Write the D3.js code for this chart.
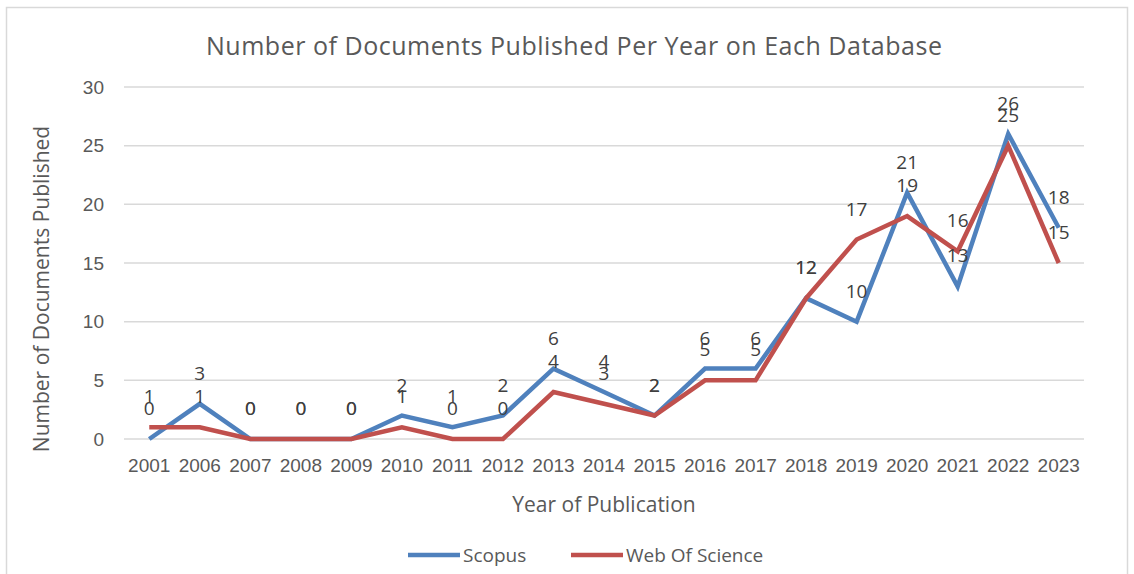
<!DOCTYPE html>
<meta charset="utf-8">
<style>
    body { margin: 0; background: #fff; font-family: "Open Sans", "Noto Sans", sans-serif; }
    text { fill: #595959; }
</style>
<body>
<script src="https://cdn.jsdelivr.net/npm/d3@7"></script>
<script>

var years = ["2001","2006","2007","2008","2009","2010","2011","2012","2013","2014",
             "2015","2016","2017","2018","2019","2020","2021","2022","2023"];
var scopus = [0,3,0,0,0,2,1,2,6,4,2,6,6,12,10,21,13,26,18];
var wos    = [1,1,0,0,0,1,0,0,4,3,2,5,5,12,17,19,16,25,15];
var yTicks = [0,5,10,15,20,25,30];

var series = [
  {name: "Scopus", values: scopus, color: "#4f81bd"},
  {name: "Web Of Science", values: wos, color: "#c0504d"}
];

var W = 1134, H = 574;
var margin = {top: 87, right: 50, bottom: 135, left: 124},
    width = W - margin.left - margin.right,
    height = H - margin.top - margin.bottom;

var svg = d3.select("body").append("svg")
    .attr("width", W)
    .attr("height", H);

// outer chart border
svg.append("rect")
    .attr("x", 6.5).attr("y", 7.5)
    .attr("width", 1121).attr("height", 580)
    .attr("fill", "none")
    .attr("stroke", "#d9d9d9")
    .attr("stroke-width", 1.5);

svg.append("text")
    .attr("x", 574).attr("y", 55)
    .attr("text-anchor", "middle")
    .style("font-size", "25px")
    .attr("textLength", 736)
    .text("Number of Documents Published Per Year on Each Database");

var g = svg.append("g")
    .attr("transform", "translate(" + margin.left + "," + margin.top + ")");

var x = d3.scaleBand().domain(years).range([0, width]);
var y = d3.scaleLinear().domain([0, 30]).range([height, 0]);

// gridlines
g.append("g")
  .selectAll("line")
  .data(yTicks)
  .enter().append("line")
    .attr("x1", 0).attr("x2", width)
    .attr("y1", function(d) { return y(d); })
    .attr("y2", function(d) { return y(d); })
    .attr("stroke", "#d9d9d9")
    .attr("stroke-width", 1.5);

// y axis labels
var yAxis = g.append("g")
    .call(d3.axisLeft(y).tickValues(yTicks).tickSize(0).tickPadding(20));
yAxis.select(".domain").remove();
yAxis.selectAll("text").style("font-size", "19px").attr("fill", "#595959");

// x axis labels
var xAxis = g.append("g")
    .attr("transform", "translate(0," + height + ")")
    .call(d3.axisBottom(x).tickSize(0).tickPadding(20));
xAxis.select(".domain").remove();
xAxis.selectAll("text").style("font-size", "19px").attr("fill", "#595959");

svg.append("text")
    .attr("x", 604).attr("y", 512)
    .attr("text-anchor", "middle")
    .style("font-size", "21px")
    .text("Year of Publication");

svg.append("text")
    .attr("transform", "translate(49,289) rotate(-90)")
    .attr("text-anchor", "middle")
    .style("font-size", "21px")
    .text("Number of Documents Published");

var line = d3.line()
    .x(function(d, i) { return x(years[i]) + x.bandwidth() / 2; })
    .y(function(d) { return y(d); });

series.forEach(function(s) {
  g.append("path")
      .datum(s.values)
      .attr("fill", "none")
      .attr("stroke", s.color)
      .attr("stroke-width", 4.5)
      .attr("stroke-linejoin", "miter")
      .attr("d", line);
});

series.forEach(function(s) {
  g.append("g")
    .selectAll("text")
    .data(s.values)
    .enter().append("text")
      .attr("x", function(d, i) { return x(years[i]) + x.bandwidth() / 2; })
      .attr("y", function(d) { return y(d) - 24; })
      .attr("text-anchor", "middle")
      .style("font-size", "19px")
      .style("fill", "#404040")
      .text(function(d) { return d; });
});

// legend
var legend = svg.append("g").attr("transform", "translate(0,555)");
var lx = [408, 571];
series.forEach(function(s, i) {
  legend.append("line")
      .attr("x1", lx[i]).attr("x2", lx[i] + 52)
      .attr("y1", 0).attr("y2", 0)
      .attr("stroke", s.color)
      .attr("stroke-width", 4.5);
  legend.append("text")
      .attr("x", lx[i] + 55).attr("y", 7)
      .style("font-size", "19px")
      .text(s.name);
});

</script>
</body>
